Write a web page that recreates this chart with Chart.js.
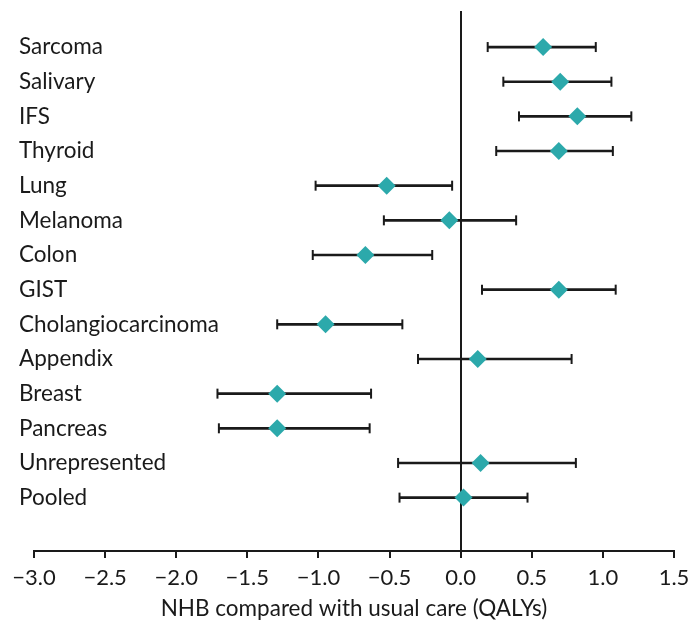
<!DOCTYPE html>
<html>
<head>
<meta charset="utf-8">
<script src="https://cdn.jsdelivr.net/npm/chart.js@4.4.1/dist/chart.umd.min.js"></script>
<style>
  html, body { margin: 0; padding: 0; background: #fff; }
  #wrap { width: 691px; height: 626px; }
</style>
</head>
<body>
<div id="wrap"><canvas id="chart"></canvas></div>
<script>
// DATA

const categories = ['Sarcoma', 'Salivary', 'IFS', 'Thyroid', 'Lung', 'Melanoma', 'Colon', 'GIST',
  'Cholangiocarcinoma', 'Appendix', 'Breast', 'Pancreas', 'Unrepresented', 'Pooled'];
const estimate = [0.58, 0.70, 0.82, 0.69, -0.52, -0.08, -0.67, 0.69, -0.95, 0.12, -1.29, -1.29, 0.14, 0.02];
const lower = [0.19, 0.30, 0.41, 0.25, -1.02, -0.54, -1.04, 0.15, -1.29, -0.30, -1.71, -1.70, -0.44, -0.43];
const upper = [0.95, 1.06, 1.20, 1.07, -0.06, 0.39, -0.20, 1.09, -0.41, 0.78, -0.63, -0.64, 0.81, 0.47];
const xTicks = [-3.0, -2.5, -2.0, -1.5, -1.0, -0.5, 0.0, 0.5, 1.0, 1.5];

const TEAL = '#2ca9ab';
const INK = '#1a1a1a';

Chart.defaults.font.family = 'Lato';
Chart.defaults.font.size = 22.5;
Chart.defaults.color = INK;

const pts = arr => arr.map((v, i) => ({x: v, y: i}));

// CHART

const ctx = document.getElementById('chart');

new Chart(ctx, {
  data: {
    datasets: [
      {
        type: 'scatter',
        label: 'Estimate',
        data: pts(estimate),
        pointStyle: 'rectRot',
        pointRadius: 9,
        pointHoverRadius: 9,
        backgroundColor: TEAL,
        borderWidth: 0,
      },
      {
        type: 'scatter',
        label: 'Lower',
        data: pts(lower),
        pointStyle: 'line',
        rotation: 90,
        pointRadius: 5,
        borderColor: INK,
        borderWidth: 2,
      },
      {
        type: 'scatter',
        label: 'Upper',
        data: pts(upper),
        pointStyle: 'line',
        rotation: 90,
        pointRadius: 5,
        borderColor: INK,
        borderWidth: 2,
      },
      {
        type: 'bar',
        label: 'Interval',
        indexAxis: 'y',
        data: categories.map((c, i) => ({x: [lower[i], upper[i]], y: i})),
        backgroundColor: INK,
        borderWidth: 0,
        barThickness: 2,
      },
    ]
  },
  options: {
    responsive: true,
    maintainAspectRatio: false,
    animation: false,
    layout: { padding: { left: 34, right: 17, top: 11, bottom: 0 } },
    plugins: {
      legend: { display: false },
      tooltip: { enabled: false },
    },
    scales: {
      x: {
        type: 'linear',
        min: -3,
        max: 1.5,
        afterBuildTicks: s => { s.ticks = xTicks.map(v => ({value: v})); },
        afterFit: s => { s.height = 75; s.paddingLeft = 0; s.paddingRight = 0; },
        ticks: {
          padding: 7,
          color: INK,
          font: { size: 22 },
          callback: v => (v < 0 ? '\u2212' : '') + Math.abs(v).toFixed(1),
        },
        grid: {
          drawOnChartArea: true,
          color: c => (c.tick && c.tick.value === 0 ? INK : 'rgba(0,0,0,0)'),
          tickColor: INK,
          tickLength: 7,
          lineWidth: 2,
        },
        border: { color: INK, width: 2 },
        title: {
          display: true,
          text: 'NHB compared with usual care (QALYs)',
          color: INK,
          padding: { top: 0, bottom: 4 },
        },
      },
      y: {
        type: 'linear',
        reverse: true,
        offset: false,
        min: -1.04,
        max: 14.54,
        afterBuildTicks: s => { s.ticks = categories.map((c, i) => ({value: i})); },
        afterFit: s => { s.width = 0; },
        ticks: {
          mirror: true,
          padding: -15,
          color: INK,
          callback: v => categories[v],
        },
        grid: { display: false, offset: false },
        border: { display: false },
      },
    },
  },
});
</script>
</body>
</html>
